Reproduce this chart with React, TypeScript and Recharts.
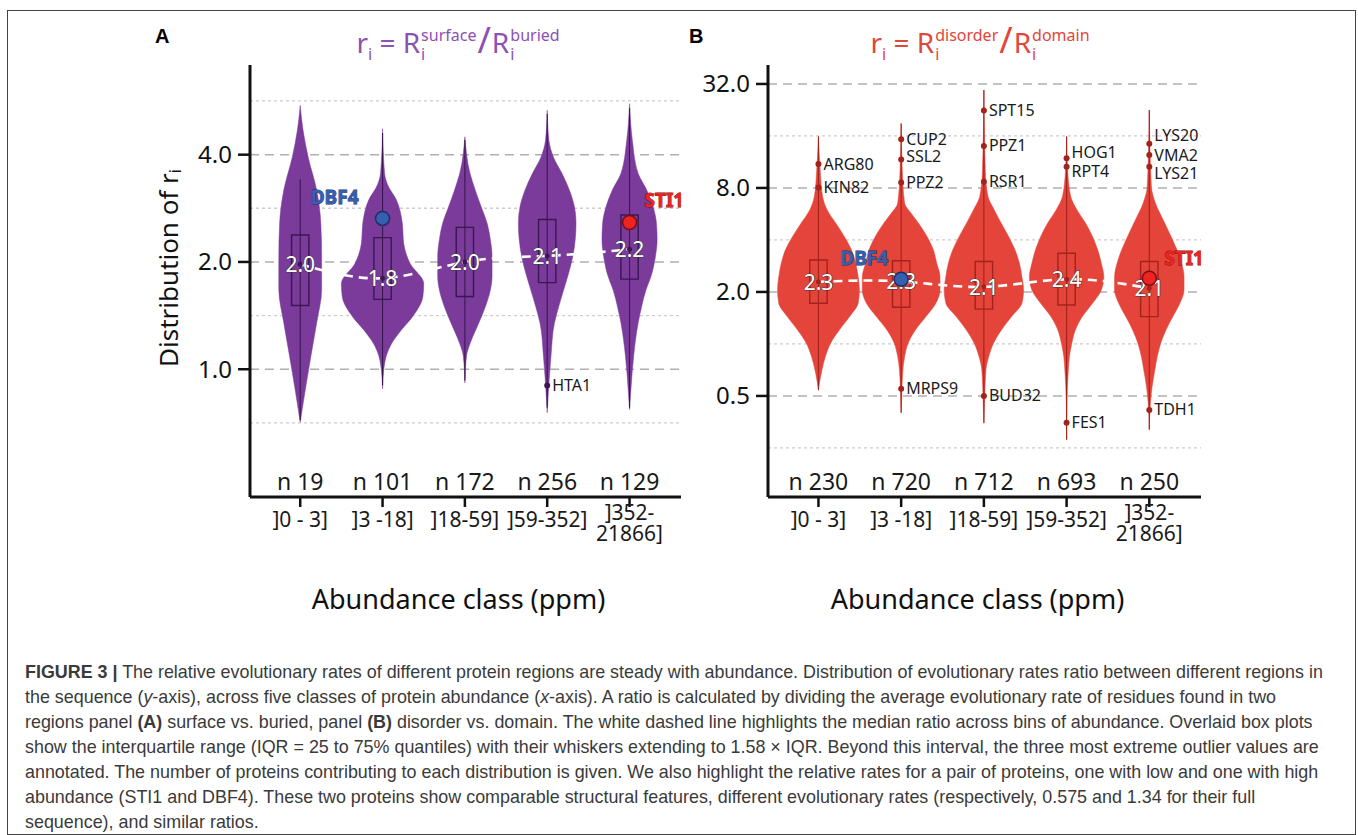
import React from 'react'
import {
  ComposedChart,
  XAxis,
  YAxis,
  Area,
  Line,
  Scatter,
  ReferenceArea,
  ReferenceLine,
  CartesianGrid,
} from 'recharts'

type Pt = [number, number] // [ratio, violin half width in class units]

interface Mark {
  name: string
  cls: number
  v: number
}

const classLabels: string[][] = [[']0 - 3]'], [']3 -18]'], [']18-59]'], [']59-352]'], [']352-', '21866]']]
const countsA = [19, 101, 172, 256, 129]
const countsB = [230, 720, 712, 693, 250]

// panel A: surface / buried
const violinA0: Pt[] = [[0.71, 0], [0.88, 0.063], [1.09, 0.13], [1.35, 0.2], [1.67, 0.26], [2.07, 0.26], [2.57, 0.25], [3.18, 0.2], [3.94, 0.096], [4.69, 0.034], [5.5, 0]]
const violinA1: Pt[] = [[0.88, 0], [1.02, 0.02], [1.09, 0.045], [1.18, 0.11], [1.29, 0.23], [1.4, 0.36], [1.6, 0.49], [1.74, 0.5], [1.98, 0.335], [2.26, 0.256], [2.57, 0.24], [2.98, 0.17], [3.3, 0.06], [3.54, 0.025], [4.73, 0]]
const violinA2: Pt[] = [[0.915, 0], [1.09, 0.02], [1.18, 0.063], [1.35, 0.17], [1.5, 0.25], [1.67, 0.31], [1.82, 0.33], [2.07, 0.33], [2.31, 0.31], [2.57, 0.27], [2.86, 0.197], [3.18, 0.126], [3.54, 0.063], [4.49, 0]]
const violinA3: Pt[] = [[0.755, 0], [0.915, 0.021], [1.09, 0.046], [1.35, 0.088], [1.5, 0.14], [1.67, 0.2], [1.86, 0.26], [2.07, 0.31], [2.31, 0.34], [2.57, 0.35], [2.86, 0.33], [3.18, 0.27], [3.54, 0.18], [3.94, 0.075], [4.39, 0.021], [5.33, 0]]
const violinA4: Pt[] = [[0.77, 0], [0.88, 0.017], [1.09, 0.05], [1.35, 0.105], [1.5, 0.147], [1.67, 0.2], [1.82, 0.26], [2.07, 0.314], [2.31, 0.335], [2.57, 0.327], [2.86, 0.285], [3.18, 0.21], [3.54, 0.105], [4.39, 0.034], [5.56, 0]]
const q1A = [1.51, 1.57, 1.6, 1.75, 1.79]
const q3A = [2.38, 2.34, 2.5, 2.63, 2.71]
const medianA = [1.97, 1.8, 2.0, 2.08, 2.17]
const whiskerLoA = [0.72, 0.9, 0.93, 0.78, 0.78]
const whiskerHiA = [3.41, 4.6, 4.4, 5.2, 5.4]
const outliersA: Mark[] = [{ name: 'HTA1', cls: 3, v: 0.9 }]
const highlightsA: Mark[] = [
  { name: 'DBF4', cls: 1, v: 2.65 },
  { name: 'STI1', cls: 4, v: 2.58 },
]

// panel B: disorder / domain
const violinB0: Pt[] = [[0.54, 0], [0.707, 0.042], [0.845, 0.084], [1.01, 0.147], [1.2, 0.25], [1.44, 0.377], [1.72, 0.48], [2.05, 0.495], [2.45, 0.48], [2.93, 0.45], [3.5, 0.4], [4.18, 0.314], [5.0, 0.21], [5.97, 0.105], [7.13, 0.05], [10.17, 0.021], [15.86, 0]]
const violinB1: Pt[] = [[0.4, 0], [0.453, 0.004], [0.707, 0.021], [0.845, 0.042], [1.01, 0.084], [1.2, 0.17], [1.44, 0.3], [1.72, 0.42], [2.05, 0.47], [2.45, 0.47], [2.93, 0.43], [3.5, 0.39], [4.18, 0.314], [5.0, 0.21], [5.71, 0.12], [6.52, 0.042], [10.17, 0.013], [18.9, 0]]
const violinB2: Pt[] = [[0.347, 0], [0.453, 0.008], [0.707, 0.025], [0.845, 0.059], [1.01, 0.117], [1.2, 0.21], [1.44, 0.335], [1.72, 0.46], [2.05, 0.48], [2.45, 0.46], [2.93, 0.43], [3.5, 0.377], [4.18, 0.3], [5.0, 0.21], [5.97, 0.126], [7.13, 0.05], [10.17, 0.017], [29.5, 0]]
const violinB3: Pt[] = [[0.278, 0], [0.453, 0.004], [0.707, 0.021], [0.845, 0.034], [1.01, 0.063], [1.2, 0.105], [1.44, 0.19], [1.72, 0.314], [2.05, 0.42], [2.45, 0.45], [2.93, 0.42], [3.5, 0.377], [4.18, 0.314], [5.0, 0.23], [5.97, 0.126], [7.13, 0.05], [10.17, 0.013], [15.86, 0]]
const violinB4: Pt[] = [[0.318, 0], [0.453, 0.013], [0.566, 0.034], [0.707, 0.067], [0.845, 0.096], [1.01, 0.138], [1.2, 0.2], [1.44, 0.285], [1.72, 0.37], [2.05, 0.42], [2.45, 0.42], [2.93, 0.39], [3.5, 0.335], [4.18, 0.264], [5.22, 0.168], [6.52, 0.075], [8.15, 0.025], [22.6, 0]]
const q1B = [1.72, 1.63, 1.59, 1.68, 1.44]
const q3B = [3.06, 3.03, 3.0, 3.35, 3.0]
const medianB = [2.29, 2.3, 2.14, 2.37, 2.1]
const whiskerLoB = [0.54, 0.4, 0.35, 0.28, 0.32]
const whiskerHiB = [15.9, 18.9, 29.5, 15.9, 22.6]
const outliersB: Mark[] = [
  { name: 'ARG80', cls: 0, v: 11.0 },
  { name: 'KIN82', cls: 0, v: 8.06 },
  { name: 'CUP2', cls: 1, v: 15.3 },
  { name: 'SSL2', cls: 1, v: 11.7 },
  { name: 'PPZ2', cls: 1, v: 8.6 },
  { name: 'MRPS9', cls: 1, v: 0.55 },
  { name: 'SPT15', cls: 2, v: 22.5 },
  { name: 'PPZ1', cls: 2, v: 14.0 },
  { name: 'RSR1', cls: 2, v: 8.7 },
  { name: 'BUD32', cls: 2, v: 0.5 },
  { name: 'HOG1', cls: 3, v: 11.9 },
  { name: 'RPT4', cls: 3, v: 10.6 },
  { name: 'FES1', cls: 3, v: 0.35 },
  { name: 'LYS20', cls: 4, v: 14.4 },
  { name: 'VMA2', cls: 4, v: 12.4 },
  { name: 'LYS21', cls: 4, v: 10.6 },
  { name: 'TDH1', cls: 4, v: 0.415 },
]
const highlightsB: Mark[] = [
  { name: 'DBF4', cls: 1, v: 2.37 },
  { name: 'STI1', cls: 4, v: 2.4 },
]

const ticksA = [1, 2, 4]
const majorA = [1, 2, 4]
const minorA = [0.707, 1.414, 2.83, 5.66]
const ticksB = [0.5, 2, 8, 32]
const majorB = [0.5, 2, 8, 32]
const minorB = [0.25, 1, 4, 16]

const FONT = '"Noto Sans", "DejaVu Sans", sans-serif'
const X_DOMAIN: [number, number] = [-0.61, 4.625]
const BOX_HALF = 0.105
// vertical nudges (px) for crowded outlier labels
const labelNudge: Record<string, number> = { SSL2: -3, HOG1: -6, RPT4: 5, LYS20: -8, LYS21: 7 }

function violinRows(points: Pt[], cls: number) {
  return points.map(([v, w]) => ({ v, r: [cls - w, cls + w] }))
}

function ClassTick(props: any) {
  const { x, y, payload, counts } = props
  const i = payload.value as number
  const lines = classLabels[i] || []
  return (
    <g>
      <text x={x} y={y - 19} textAnchor="middle" fontSize={23} fill="#1a1a1a" fontFamily={FONT}>
        n {counts[i]}
      </text>
      {lines.map((t, k) => (
        <text
          key={k}
          x={x}
          y={lines.length > 1 ? y + 11 + 21 * k : y + 18}
          textAnchor="middle"
          fontSize={21}
          fill="#1a1a1a"
          fontFamily={FONT}
        >
          {t}
        </text>
      ))}
    </g>
  )
}

interface PanelProps {
  width: number
  height: number
  margin: { top: number; right: number; bottom: number; left: number }
  yWidth: number
  violins: Pt[][]
  q1: number[]
  q3: number[]
  med: number[]
  lo: number[]
  hi: number[]
  counts: number[]
  outliers: Mark[]
  highlights: Mark[]
  yDomain: [number, number]
  yTicks: number[]
  major: number[]
  minor: number[]
  fill: string
  dark: string
  offsets: Record<string, [number, number]>
  yTitle?: boolean
}

const hlColors: Record<string, { fill: string; edge: string }> = {
  DBF4: { fill: '#3560b0', edge: '#1c2f66' },
  STI1: { fill: '#ee2424', edge: '#7a0d0d' },
}

function Panel(p: PanelProps) {
  const medRows = p.med.map((m, i) => ({ x: i, v: m, label: m.toFixed(1) }))
  const outRows = p.outliers.map((o) => ({ x: o.cls, v: o.v, name: o.name }))
  const hlRows = p.highlights.map((o) => ({ x: o.cls, v: o.v, name: o.name }))

  const xTitle = (lp: any) => {
    const vb = lp.viewBox || {}
    return (
      <text
        x={vb.x + vb.width / 2 - 7}
        y={vb.y + 101}
        textAnchor="middle"
        dominantBaseline="central"
        fontSize={27}
        fill="#111"
        fontFamily={FONT}
      >
        Abundance class (ppm)
      </text>
    )
  }

  const yTitle = (lp: any) => {
    const vb = lp.viewBox || {}
    const cx = vb.x + 8
    const cy = vb.y + vb.height / 2 - 13
    return (
      <text
        transform={`rotate(-90, ${cx}, ${cy})`}
        x={cx}
        y={cy}
        textAnchor="middle"
        dominantBaseline="central"
        fontSize={26}
        fill="#111"
        fontFamily={FONT}
      >
        Distribution of r
        <tspan fontSize={16} dy={7}>
          i
        </tspan>
      </text>
    )
  }

  return (
    <ComposedChart
      layout="vertical"
      width={p.width}
      height={p.height}
      margin={p.margin}
      style={{ fontFamily: FONT }}
    >
      <CartesianGrid
        vertical={false}
        horizontalValues={p.major}
        stroke="#b0b0b0"
        strokeWidth={1.6}
        strokeDasharray="9 6"
      />
      <CartesianGrid
        vertical={false}
        horizontalValues={p.minor}
        stroke="#cdcdcd"
        strokeWidth={1.3}
        strokeDasharray="3 3"
      />
      <XAxis
        type="number"
        dataKey="x"
        domain={X_DOMAIN}
        ticks={[0, 1, 2, 3, 4]}
        interval={0}
        allowDataOverflow
        height={120}
        tickSize={10}
        tickLine={{ stroke: '#111', strokeWidth: 2.5 }}
        axisLine={{ stroke: '#111', strokeWidth: 3 }}
        tick={(t: any) => <ClassTick {...t} counts={p.counts} />}
        label={xTitle}
      />
      <YAxis
        type="number"
        dataKey="v"
        scale="log"
        reversed
        domain={p.yDomain}
        ticks={p.yTicks}
        interval={0}
        allowDataOverflow
        width={p.yWidth}
        tickSize={12}
        tickMargin={6}
        tickLine={{ stroke: '#111', strokeWidth: 2.5 }}
        axisLine={{ stroke: '#111', strokeWidth: 3 }}
        tick={{ fontSize: 24, fill: '#111', fontFamily: FONT }}
        tickFormatter={(v: number) => v.toFixed(1)}
        label={p.yTitle ? yTitle : undefined}
      />
      {p.violins.map((pts, i) => (
        <Area
          key={'violin' + i}
          data={violinRows(pts, i)}
          dataKey="r"
          type="monotone"
          fill={p.fill}
          fillOpacity={1}
          stroke={p.fill}
          strokeWidth={0.5}
          dot={false}
          activeDot={false}
          isAnimationActive={false}
          zIndex={100}
        />
      ))}
      {p.lo.map((lo, i) => (
        <ReferenceLine
          key={'whisker' + i}
          segment={[
            { x: i, y: lo },
            { x: i, y: p.hi[i] },
          ]}
          stroke={p.dark}
          strokeWidth={1.1}
          ifOverflow="visible"
          zIndex={150}
        />
      ))}
      {p.q1.map((q, i) => (
        <ReferenceArea
          key={'box' + i}
          x1={i - BOX_HALF}
          x2={i + BOX_HALF}
          y1={q}
          y2={p.q3[i]}
          fill="none"
          fillOpacity={0}
          stroke={p.dark}
          strokeWidth={1.4}
          ifOverflow="visible"
          zIndex={160}
        />
      ))}
      <Line
        data={medRows}
        dataKey="x"
        type="natural"
        stroke="#ffffff"
        strokeWidth={2.6}
        strokeDasharray="9 6"
        dot={false}
        activeDot={false}
        isAnimationActive={false}
        zIndex={400}
      />
      <Scatter
        data={medRows}
        isAnimationActive={false}
        zIndex={600}
        shape={(s: any) => (
          <g>
            <circle cx={s.cx} cy={s.cy} r={2.5} fill={p.dark} />
            <text
              x={s.cx}
              y={s.cy}
              dy={8}
              textAnchor="middle"
              fontSize={21}
              fill="#ffffff"
              stroke="#3a3a3a"
              strokeWidth={1.1}
              paintOrder="stroke"
              fontFamily={FONT}
            >
              {s.payload.label}
            </text>
          </g>
        )}
      />
      <Scatter
        data={outRows}
        isAnimationActive={false}
        zIndex={610}
        shape={(s: any) => (
          <g>
            <circle cx={s.cx} cy={s.cy} r={3} fill={p.dark} />
            <text
              x={s.cx + 5}
              y={s.cy + (labelNudge[s.payload.name] || 0)}
              dy={5.5}
              fontSize={16}
              fill="#1a1a1a"
              fontFamily={FONT}
            >
              {s.payload.name}
            </text>
          </g>
        )}
      />
      <Scatter
        data={hlRows}
        isAnimationActive={false}
        zIndex={620}
        shape={(s: any) => {
          const c = hlColors[s.payload.name]
          const [dx, dy] = p.offsets[s.payload.name]
          return (
            <g>
              <circle cx={s.cx} cy={s.cy} r={7} fill={c.fill} stroke={c.edge} strokeWidth={1.5} />
              <text
                x={s.cx + dx}
                y={s.cy + dy}
                dy={7}
                textAnchor={dx < 0 ? 'end' : 'start'}
                fontSize={19}
                fontWeight={700}
                fill={c.fill}
                stroke={c.edge}
                strokeWidth={0.8}
                paintOrder="stroke"
                fontFamily={FONT}
              >
                {s.payload.name}
              </text>
            </g>
          )
        }}
      />
    </ComposedChart>
  )
}

function Stack(props: { top: string }) {
  return (
    <span
      style={{
        display: 'inline-flex',
        flexDirection: 'column',
        fontSize: 16,
        lineHeight: '19px',
        verticalAlign: 12,
        marginLeft: 1,
      }}
    >
      <span>{props.top}</span>
      <span>i</span>
    </span>
  )
}

function RatioTitle(props: { top: string; bottom: string; color: string; x: number }) {
  return (
    <div
      style={{
        position: 'absolute',
        left: props.x,
        top: 20,
        transform: 'translateX(-50%)',
        whiteSpace: 'nowrap',
        color: props.color,
        fontFamily: FONT,
        fontSize: 28,
        lineHeight: '40px',
      }}
    >
      r<span style={{ fontSize: 16, verticalAlign: -7 }}>i</span> = R<Stack top={props.top} />
      <span style={{ fontSize: 36, margin: '0 1px' }}>/</span>R<Stack top={props.bottom} />
    </div>
  )
}

const captionLines: React.ReactNode[] = [
  <>
    <b>FIGURE 3 |</b> The relative evolutionary rates of different protein regions are steady with abundance. Distribution of evolutionary rates ratio between different regions in
  </>,
  <>
    the sequence (<i>y</i>-axis), across five classes of protein abundance (<i>x</i>-axis). A ratio is calculated by dividing the average evolutionary rate of residues found in two
  </>,
  <>
    regions panel <b>(A)</b> surface vs. buried, panel <b>(B)</b> disorder vs. domain. The white dashed line highlights the median ratio across bins of abundance. Overlaid box plots
  </>,
  <>
    show the interquartile range (IQR = 25 to 75% quantiles) with their whiskers extending to 1.58 × IQR. Beyond this interval, the three most extreme outlier values are
  </>,
  <>
    annotated. The number of proteins contributing to each distribution is given. We also highlight the relative rates for a pair of proteins, one with low and one with high
  </>,
  <>
    abundance (STI1 and DBF4). These two proteins show comparable structural features, different evolutionary rates (respectively, 0.575 and 1.34 for their full
  </>,
  <>sequence), and similar ratios.</>,
]

export default function App() {
  return (
    <div
      style={{
        position: 'absolute',
        left: 0,
        top: 0,
        width: 1358,
        height: 835,
        background: '#ffffff',
        overflow: 'hidden',
      }}
    >
      <div
        style={{
          position: 'absolute',
          left: 7,
          top: 10,
          width: 1347,
          height: 823,
          border: '1.5px solid #444',
        }}
      />
      <div style={{ position: 'absolute', left: 155, top: 25, fontFamily: '"Liberation Sans", Arial, sans-serif', fontWeight: 700, fontSize: 20 }}>
        A
      </div>
      <div style={{ position: 'absolute', left: 689, top: 25, fontFamily: '"Liberation Sans", Arial, sans-serif', fontWeight: 700, fontSize: 20 }}>
        B
      </div>
      <RatioTitle top="surface" bottom="buried" color="#8d50b4" x={458} />
      <RatioTitle top="disorder" bottom="domain" color="#e2463a" x={980} />

      <div style={{ position: 'absolute', left: 0, top: 0 }}>
        <Panel
          width={700}
          height={617}
          margin={{ top: 65, right: 19, bottom: 0, left: 160 }}
          yWidth={90}
          violins={[violinA0, violinA1, violinA2, violinA3, violinA4]}
          q1={q1A}
          q3={q3A}
          med={medianA}
          lo={whiskerLoA}
          hi={whiskerHiA}
          counts={countsA}
          outliers={outliersA}
          highlights={highlightsA}
          yDomain={[0.438, 7.14]}
          yTicks={ticksA}
          major={majorA}
          minor={minorA}
          fill="#7a3b9a"
          dark="#3b1752"
          offsets={{ DBF4: [-24, -21], STI1: [15, -23] }}
          yTitle
        />
      </div>
      <div style={{ position: 'absolute', left: 690, top: 0 }}>
        <Panel
          width={668}
          height={617}
          margin={{ top: 65, right: 157, bottom: 0, left: 8 }}
          yWidth={70}
          violins={[violinB0, violinB1, violinB2, violinB3, violinB4]}
          q1={q1B}
          q3={q3B}
          med={medianB}
          lo={whiskerLoB}
          hi={whiskerHiB}
          counts={countsB}
          outliers={outliersB}
          highlights={highlightsB}
          yDomain={[0.13, 41.2]}
          yTicks={ticksB}
          major={majorB}
          minor={minorB}
          fill="#e5443a"
          dark="#a3221b"
          offsets={{ DBF4: [-13, -21], STI1: [15, -20] }}
        />
      </div>

      <div
        style={{
          position: 'absolute',
          left: 25,
          top: 660,
          fontFamily: '"Liberation Sans", Arial, sans-serif',
          fontSize: 17.9,
          lineHeight: '25px',
          color: '#3a3a3a',
          whiteSpace: 'nowrap',
        }}
      >
        {captionLines.map((l, i) => (
          <div key={i}>{l}</div>
        ))}
      </div>
    </div>
  )
}
